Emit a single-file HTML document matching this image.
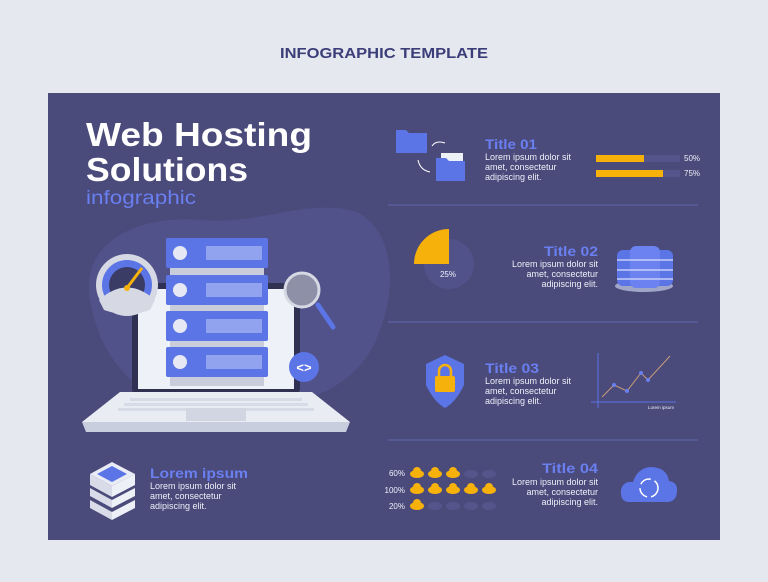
<!DOCTYPE html>
<html><head><meta charset="utf-8"><style>
html,body{margin:0;padding:0;background:#e6e8ef;}
svg{display:block;font-family:"Liberation Sans",sans-serif;}
</style></head><body>
<svg width="768" height="582" viewBox="0 0 768 582" xmlns="http://www.w3.org/2000/svg">
<rect width="768" height="582" fill="#e6e8ef"/>
<text x="280" y="58" textLength="208" lengthAdjust="spacingAndGlyphs" font-size="15" font-weight="bold" fill="#3b3e78">INFOGRAPHIC TEMPLATE</text>
<rect x="48" y="93" width="672" height="447" fill="#4a4a7b"/>
<!-- blob -->
<path d="M90 300 C80 240 140 215 200 220 C260 225 300 200 350 210 C390 220 400 280 380 330 C360 390 300 410 220 410 C140 410 100 360 90 300Z" fill="#52528a"/>
<!-- headings -->
<text x="86" y="146" font-size="33" font-weight="bold" fill="#fff" textLength="226" lengthAdjust="spacingAndGlyphs">Web Hosting</text>
<text x="86" y="181" font-size="33" font-weight="bold" fill="#fff" textLength="162" lengthAdjust="spacingAndGlyphs">Solutions</text>
<text x="86" y="204" font-size="19" fill="#6a7ff0" textLength="110" lengthAdjust="spacingAndGlyphs">infographic</text>
<!-- laptop -->
<rect x="132" y="283" width="168" height="110" rx="4" fill="#2f3052"/>
<rect x="138" y="289" width="156" height="100" fill="#eef1f8"/>
<path d="M120 392 L312 392 L350 422 L82 422 Z" fill="#e9ecf3"/>
<path d="M82 422 L350 422 L346 432 L86 432Z" fill="#c9cede"/>
<g fill="#d7dbe7"><rect x="130" y="398" width="172" height="3"/><rect x="124" y="403" width="184" height="3"/><rect x="118" y="408" width="196" height="3"/></g>
<rect x="186" y="408" width="60" height="13" fill="#d2d6e3"/>
<!-- servers -->
<g>
<rect x="170" y="265" width="94" height="10" fill="#c8ccdb"/>
<rect x="170" y="302" width="94" height="10" fill="#c8ccdb"/>
<rect x="170" y="338" width="94" height="10" fill="#c8ccdb"/>
<rect x="170" y="374" width="94" height="12" fill="#c8ccdb"/>
<rect x="166" y="238" width="102" height="30" rx="2" fill="#5b74e6"/>
<rect x="166" y="275" width="102" height="30" rx="2" fill="#5b74e6"/>
<rect x="166" y="311" width="102" height="30" rx="2" fill="#5b74e6"/>
<rect x="166" y="347" width="102" height="30" rx="2" fill="#5b74e6"/>
<g fill="#e6e9f3"><circle cx="180" cy="253" r="7"/><circle cx="180" cy="290" r="7"/><circle cx="180" cy="326" r="7"/><circle cx="180" cy="362" r="7"/></g>
<g fill="#a8b6f2"><rect x="206" y="246" width="56" height="14" opacity=".7"/><rect x="206" y="283" width="56" height="14" opacity=".7"/><rect x="206" y="319" width="56" height="14" opacity=".7"/><rect x="206" y="355" width="56" height="14" opacity=".7"/></g>
</g>
<!-- gauge -->
<circle cx="127" cy="285" r="31" fill="#d6d9e4"/>
<circle cx="127" cy="285" r="25" fill="#5b74e6"/>
<circle cx="127" cy="285" r="18" fill="#3b3c66"/>
<path d="M99 300 Q127 275 155 300 L150 310 Q127 318 104 310Z" fill="#d6d9e4"/>
<line x1="127" y1="288" x2="142" y2="268" stroke="#f6b10b" stroke-width="3"/>
<circle cx="127" cy="288" r="3" fill="#f6b10b"/>
<!-- magnifier -->
<line x1="318" y1="305" x2="333" y2="327" stroke="#5b74e6" stroke-width="5" stroke-linecap="round"/>
<circle cx="302" cy="290" r="17" fill="#8d90a6" stroke="#d6d9e4" stroke-width="3"/>
<!-- code badge -->
<circle cx="304" cy="367" r="15" fill="#5b74e6"/>
<text x="304" y="372" text-anchor="middle" font-size="13" font-weight="bold" fill="#fff">&lt;&gt;</text>
<!-- layers icon -->
<path d="M112 462 L135 474 L112 486 L90 474Z" fill="#e9ebf5"/>
<path d="M112 466 L127 474 L112 482 L97 474Z" fill="#5b74e6"/>
<path d="M90 474 L112 486 L112 497 L90 485Z" fill="#d9dce8"/><path d="M135 474 L112 486 L112 497 L135 485Z" fill="#eef0f7"/>
<path d="M90 488 L112 500 L112 508 L90 496Z" fill="#d9dce8"/><path d="M135 488 L112 500 L112 508 L135 496Z" fill="#eef0f7"/>
<path d="M90 500 L112 512 L112 520 L90 508Z" fill="#d9dce8"/><path d="M135 500 L112 512 L112 520 L135 508Z" fill="#eef0f7"/>
<text x="150" y="478" font-size="14" font-weight="bold" fill="#6a7ff0" textLength="98" lengthAdjust="spacingAndGlyphs">Lorem ipsum</text>
<g font-size="9" fill="#eef0f8"><text x="150" y="489">Lorem ipsum dolor sit</text><text x="150" y="499">amet, consectetur</text><text x="150" y="509">adipiscing elit.</text></g>
<!-- separators -->
<g stroke="#5d66ae" stroke-width="1"><line x1="388" y1="205" x2="698" y2="205"/><line x1="388" y1="322" x2="698" y2="322"/><line x1="388" y1="440" x2="698" y2="440"/></g>
<!-- section 1 -->
<path d="M396 130 h10 l3 3 h18 v20 h-31z" fill="#5b74e6"/>
<rect x="441" y="153" width="22" height="10" fill="#eef0f8"/>
<path d="M436 158 h10 l3 3 h16 v20 h-29z" fill="#5b74e6"/>
<path d="M445 143 Q436 140 432 146" stroke="#fff" fill="none"/>
<path d="M418 160 Q420 170 430 172" stroke="#fff" fill="none"/>
<text x="485" y="149" font-size="14" font-weight="bold" fill="#6a7ff0" textLength="52" lengthAdjust="spacingAndGlyphs">Title 01</text>
<g font-size="9" fill="#eef0f8"><text x="485" y="160">Lorem ipsum dolor sit</text><text x="485" y="170">amet, consectetur</text><text x="485" y="180">adipiscing elit.</text></g>
<rect x="596" y="155" width="84" height="7" fill="#55558c"/><rect x="596" y="155" width="48" height="7" fill="#f6b10b"/>
<rect x="596" y="170" width="84" height="7" fill="#55558c"/><rect x="596" y="170" width="67" height="7" fill="#f6b10b"/>
<g font-size="8" fill="#eef0f8"><text x="684" y="161">50%</text><text x="684" y="176">75%</text></g>
<!-- section 2 -->
<circle cx="449" cy="264" r="25" fill="#52528a"/>
<path d="M449 264 L414 264 A35 35 0 0 1 449 229Z" fill="#f6b10b"/>
<text x="448" y="277" text-anchor="middle" font-size="8" fill="#eef0f8">25%</text>
<text x="598" y="256" text-anchor="end" font-size="14" font-weight="bold" fill="#6a7ff0" textLength="54" lengthAdjust="spacingAndGlyphs">Title 02</text>
<g font-size="9" fill="#eef0f8" text-anchor="end"><text x="598" y="267">Lorem ipsum dolor sit</text><text x="598" y="277">amet, consectetur</text><text x="598" y="287">adipiscing elit.</text></g>
<ellipse cx="644" cy="286" rx="29" ry="6" fill="#9fa6c7"/>
<rect x="617" y="250" width="56" height="36" rx="6" fill="#5b74e6"/>
<rect x="630" y="246" width="30" height="42" rx="6" fill="#6b82f0"/>
<g stroke="#c6cff7" stroke-width="1.5"><line x1="617" y1="260" x2="673" y2="260"/><line x1="617" y1="270" x2="673" y2="270"/><line x1="617" y1="279" x2="673" y2="279"/></g>
<!-- section 3 -->
<path d="M445 355 L464 364 V385 Q456 402 445 408 Q434 402 426 385 V364Z" fill="#5b74e6"/>
<rect x="435" y="376" width="20" height="16" rx="2" fill="#f6b10b"/>
<path d="M439 376 v-5 a6 6 0 0 1 12 0 v5" stroke="#f6b10b" stroke-width="2.5" fill="none"/>
<text x="485" y="373" font-size="14" font-weight="bold" fill="#6a7ff0" textLength="54" lengthAdjust="spacingAndGlyphs">Title 03</text>
<g font-size="9" fill="#eef0f8"><text x="485" y="384">Lorem ipsum dolor sit</text><text x="485" y="394">amet, consectetur</text><text x="485" y="404">adipiscing elit.</text></g>
<line x1="598" y1="353" x2="598" y2="408" stroke="#5b74e6"/><line x1="591" y1="402" x2="676" y2="402" stroke="#5b74e6"/>
<polyline points="602,397 614,385 627,391 641,373 648,380 670,356" fill="none" stroke="#c79a7a"/>
<g fill="#6a7ff0"><circle cx="614" cy="385" r="2"/><circle cx="627" cy="391" r="2"/><circle cx="641" cy="373" r="2"/><circle cx="648" cy="380" r="2"/></g>
<text x="674" y="409" text-anchor="end" font-size="4.5" fill="#eef0f8">Lorem ipsum</text>
<!-- section 4 -->
<g font-size="8" fill="#eef0f8" text-anchor="end"><text x="405" y="476">60%</text><text x="405" y="493">100%</text><text x="405" y="509">20%</text></g>
<g>
<g fill="#f6b10b">
<ellipse cx="417" cy="474" rx="7" ry="4"/><ellipse cx="435" cy="474" rx="7" ry="4"/><ellipse cx="453" cy="474" rx="7" ry="4"/>
<ellipse cx="417" cy="490" rx="7" ry="4"/><ellipse cx="435" cy="490" rx="7" ry="4"/><ellipse cx="453" cy="490" rx="7" ry="4"/><ellipse cx="471" cy="490" rx="7" ry="4"/><ellipse cx="489" cy="490" rx="7" ry="4"/>
<ellipse cx="417" cy="506" rx="7" ry="4"/>
<circle cx="417" cy="471" r="4"/><circle cx="435" cy="471" r="4"/><circle cx="453" cy="471" r="4"/>
<circle cx="417" cy="487" r="4"/><circle cx="435" cy="487" r="4"/><circle cx="453" cy="487" r="4"/><circle cx="471" cy="487" r="4"/><circle cx="489" cy="487" r="4"/>
<circle cx="417" cy="503" r="4"/>
</g>
<g fill="#55558c">
<ellipse cx="471" cy="474" rx="7" ry="4"/><ellipse cx="489" cy="474" rx="7" ry="4"/>
<ellipse cx="435" cy="506" rx="7" ry="4"/><ellipse cx="453" cy="506" rx="7" ry="4"/><ellipse cx="471" cy="506" rx="7" ry="4"/><ellipse cx="489" cy="506" rx="7" ry="4"/>
</g>
</g>
<text x="598" y="473" text-anchor="end" font-size="14" font-weight="bold" fill="#6a7ff0" textLength="56" lengthAdjust="spacingAndGlyphs">Title 04</text>
<g font-size="9" fill="#eef0f8" text-anchor="end"><text x="598" y="485">Lorem ipsum dolor sit</text><text x="598" y="495">amet, consectetur</text><text x="598" y="505">adipiscing elit.</text></g>
<path d="M629 502 Q620 502 621 490 Q623 481 633 482 Q638 467 652 467 Q667 468 669 481 Q678 482 677 492 Q676 502 667 502Z" fill="#5b74e6"/>
<circle cx="649" cy="488" r="9" fill="none" stroke="#fff" stroke-width="1.5" stroke-dasharray="12 4"/>
</svg>
</body></html>
